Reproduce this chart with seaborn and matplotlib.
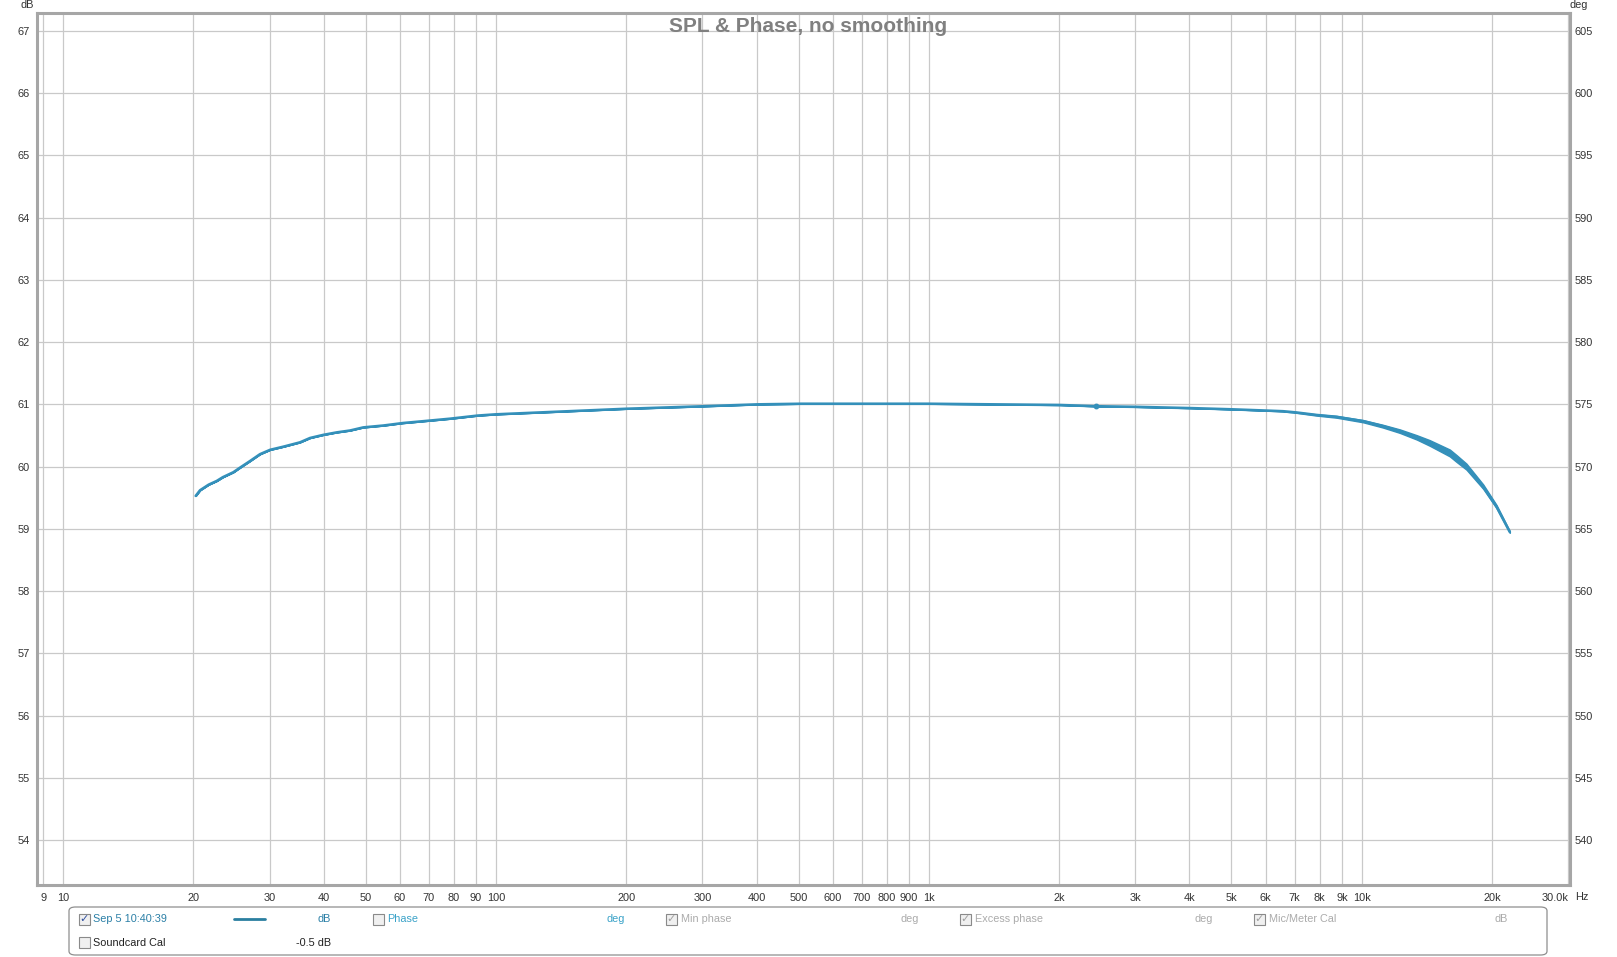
import matplotlib
matplotlib.use("Agg")
import matplotlib.pyplot as plt
from matplotlib.ticker import FixedLocator, FixedFormatter
from matplotlib.patches import FancyBboxPatch, Rectangle
from matplotlib.lines import Line2D
import seaborn as sns

# ---------------- data ----------------
freq_hz = [20.26, 20.73, 21.7, 22.66, 23.4, 24.75, 25.6, 27.05, 28.52, 30.1, 32.28,
           35.28, 37.22, 39.94, 42.9, 46.03, 49.4, 54.95, 61, 65.6, 70.5, 78.4,
           90.8, 100, 201, 303, 402, 508, 771, 1000, 2010, 2432, 3020, 4030, 5035,
           6030, 6577, 7065, 7863, 8750, 10074, 11190, 12245, 13400, 14360, 15970,
           16560, 17450, 19070, 20470, 21980]
spl_db = [59.53, 59.62, 59.71, 59.77, 59.83, 59.91, 59.98, 60.09, 60.20, 60.27,
          60.32, 60.39, 60.46, 60.51, 60.55, 60.58, 60.63, 60.66, 60.70, 60.72,
          60.74, 60.77, 60.82, 60.84, 60.93, 60.97, 61.00, 61.01, 61.01, 61.01,
          60.99, 60.97, 60.96, 60.94, 60.92, 60.90, 60.89, 60.87, 60.83, 60.80,
          60.73, 60.65, 60.57, 60.47, 60.38, 60.22, 60.13, 60.00, 59.68, 59.36,
          58.95]
# half-width of the noisy band around the trace (dB)
spread_db = [0] * 36 + [0.004, 0.006, 0.010, 0.014, 0.018, 0.022, 0.028, 0.035,
                        0.045, 0.055, 0.055, 0.048, 0.035, 0.025, 0.012]
cursor_freq = [2432]
cursor_spl = [60.97]

x_ticks = [9, 10, 20, 30, 40, 50, 60, 70, 80, 90, 100, 200, 300, 400, 500, 600, 700,
           800, 900, 1000, 2000, 3000, 4000, 5000, 6000, 7000, 8000, 9000, 10000,
           20000, 30000]
x_labels = ["9", "10", "20", "30", "40", "50", "60", "70", "80", "90", "100", "200",
            "300", "400", "500", "600", "700", "800", "900", "1k", "2k", "3k", "4k",
            "5k", "6k", "7k", "8k", "9k", "10k", "20k", "30.0k"]
y_ticks = list(range(54, 68))
deg_ticks = list(range(540, 606, 5))

title = "SPL & Phase, no smoothing"
legend_row1 = ["Sep 5 10:40:39", "dB", "Phase", "deg", "Min phase", "deg",
               "Excess phase", "deg", "Mic/Meter Cal", "dB"]
legend_row2 = ["Soundcard Cal", "-0.5 dB"]

# ---------------- styling ----------------
sns.set_theme(style="white")
plt.rcParams['font.family'] = ['Liberation Sans', 'DejaVu Sans']

W, H = 1617, 957
fig = plt.figure(figsize=(W / 100, H / 100), dpi=100)
fig.patch.set_facecolor("white")

def fx(x):
    return x / W

def fy(y):
    return 1 - y / H

left, right, top, bottom = 37, 1570, 13.4, 885
ax = fig.add_axes([fx(left), fy(bottom), fx(right) - fx(left), fy(top) - fy(bottom)])
ax.set_facecolor("white")

trace_color = "#3490ba"
grid_color = "#c9c9c9"
text_color = "#333333"
tfs = 7.9

ax.set_xscale("log")
ax.set_xlim(8.71, 30270)
ax.set_ylim(53.28, 67.28)

ax.xaxis.set_major_locator(FixedLocator(x_ticks))
ax.xaxis.set_major_formatter(FixedFormatter(x_labels))
ax.xaxis.set_minor_locator(FixedLocator([]))
ax.set_yticks(y_ticks)
ax.set_yticklabels([str(v) for v in y_ticks])

ax.grid(True, which="major", color=grid_color, lw=0.9)
ax.set_axisbelow(True)

ax.tick_params(axis="x", length=0, pad=5.5, labelsize=tfs, labelcolor=text_color)
ax.tick_params(axis="y", length=0, pad=5, labelsize=tfs, labelcolor=text_color)
for lab in ax.get_xticklabels():
    if lab.get_text() == "30.0k":
        lab.set_ha("right")

for s in ax.spines.values():
    s.set_visible(True)
    s.set_color("#a6a6a6")
    s.set_linewidth(2.2)

ax.set_xlabel("")
ax.set_ylabel("")

# trace
lo = [s - d for s, d in zip(spl_db, spread_db)]
hi = [s + d for s, d in zip(spl_db, spread_db)]
ax.fill_between(freq_hz, lo, hi, color=trace_color, lw=1.0)
sns.lineplot(x=freq_hz, y=spl_db, ax=ax, color=trace_color, lw=1.9, sort=False,
             estimator=None)
ax.plot(cursor_freq, cursor_spl, "o", color=trace_color, ms=3.2)

# right axis
ax2 = ax.twinx()
ax2.set_ylim(540 + (53.28 - 54) * 5, 540 + (67.28 - 54) * 5)
ax2.set_yticks(deg_ticks)
ax2.set_yticklabels([str(v) for v in deg_ticks])
ax2.tick_params(axis="y", length=0, pad=3, labelsize=tfs, labelcolor=text_color)
ax2.grid(False)
for s in ax2.spines.values():
    s.set_visible(False)

# axis unit labels
fig.text(fx(27), fy(5), "dB", ha="center", va="center", fontsize=tfs, color=text_color)
fig.text(fx(1579), fy(5), "deg", ha="center", va="center", fontsize=tfs, color=text_color)
fig.text(fx(1575), fy(897), "Hz", ha="left", va="center", fontsize=tfs, color=text_color)

# title
fig.text(fx(808), fy(26.5), title, ha="center", va="center", fontsize=15,
         fontweight="bold", color="#808080")

# ---------------- legend panel ----------------
box = FancyBboxPatch((fx(69), fy(955)), fx(1547) - fx(69), fy(907) - fy(955),
                     boxstyle="round,pad=0,rounding_size=0.004",
                     transform=fig.transFigure, facecolor="white",
                     edgecolor="#8f8f8f", lw=0.9)
fig.add_artist(box)

def checkbox(cx, cy, checked=False, check_color="#3050a0"):
    s = 11
    r = Rectangle((fx(cx - s / 2), fy(cy + s / 2)), s / W, s / H,
                  transform=fig.transFigure, facecolor="#f0f0f0",
                  edgecolor="#8a8a8a", lw=0.8)
    fig.add_artist(r)
    if checked:
        fig.text(fx(cx), fy(cy), "\u2713", ha="center", va="center", fontsize=8,
                 color=check_color, family=["DejaVu Sans"])

teal = "#2a7fa6"
light_teal = "#3aa2c8"
grey = "#ababab"
lfs = 7.8
r1, r2 = 919, 942.5

checkbox(84, r1, True)
fig.text(fx(93), fy(r1), legend_row1[0], ha="left", va="center", fontsize=lfs, color=teal)
fig.add_artist(Line2D([fx(234), fx(265)], [fy(r1), fy(r1)], transform=fig.transFigure,
                      color="#2a7fa0", lw=2.0))
fig.text(fx(331), fy(r1), legend_row1[1], ha="right", va="center", fontsize=lfs, color=teal)
checkbox(378, r1, False)
fig.text(fx(387), fy(r1), legend_row1[2], ha="left", va="center", fontsize=lfs, color=light_teal)
fig.text(fx(616), fy(r1), legend_row1[3], ha="center", va="center", fontsize=lfs, color=light_teal)
checkbox(671, r1, True, check_color="#a0a0a0")
fig.text(fx(681), fy(r1), legend_row1[4], ha="left", va="center", fontsize=lfs, color=grey)
fig.text(fx(910), fy(r1), legend_row1[5], ha="center", va="center", fontsize=lfs, color=grey)
checkbox(965, r1, True, check_color="#a0a0a0")
fig.text(fx(975), fy(r1), legend_row1[6], ha="left", va="center", fontsize=lfs, color=grey)
fig.text(fx(1204), fy(r1), legend_row1[7], ha="center", va="center", fontsize=lfs, color=grey)
checkbox(1259, r1, True, check_color="#a0a0a0")
fig.text(fx(1269), fy(r1), legend_row1[8], ha="left", va="center", fontsize=lfs, color=grey)
fig.text(fx(1501), fy(r1), legend_row1[9], ha="center", va="center", fontsize=lfs, color=grey)

checkbox(84, r2, False)
fig.text(fx(93), fy(r2), legend_row2[0], ha="left", va="center", fontsize=lfs, color="#202020")
fig.text(fx(331), fy(r2), legend_row2[1], ha="right", va="center", fontsize=lfs, color="#202020")

fig.savefig("out.png", dpi=100, facecolor="white")
